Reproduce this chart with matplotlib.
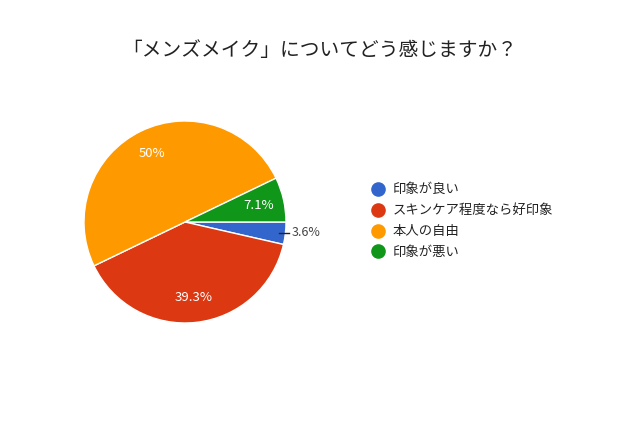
import matplotlib
matplotlib.use("Agg")
import matplotlib.pyplot as plt
from matplotlib.lines import Line2D
import numpy as np

plt.rcParams['font.family'] = ['Noto Sans CJK JP', 'DejaVu Sans']

title = "「メンズメイク」についてどう感じますか？"
categories = ["印象が良い", "スキンケア程度なら好印象", "本人の自由", "印象が悪い"]
counts = [1, 11, 14, 2]
colors = ["#3366cc", "#dc3912", "#ff9900", "#109618"]

fig = plt.figure(figsize=(6.4, 4.25), dpi=100)
fig.text(0.5, 1 - 51 / 425, title, ha='center', va='center', fontsize=14.2, color='#222222')

# pie area: center (185, 222) px, radius 101 px
ax = fig.add_axes([(185 - 101) / 640, (203 - 101) / 425, 202 / 640, 202 / 425])
total = sum(counts)
wedges, _ = ax.pie(counts, colors=colors, startangle=0, counterclock=False,
                   wedgeprops=dict(edgecolor='white', linewidth=1))
ax.set_xlim(-1, 1)
ax.set_ylim(-1, 1)

for w, c in zip(wedges, counts):
    pct = c / total * 100
    txt = f"{pct:.1f}%".replace(".0%", "%")
    mid = np.deg2rad((w.theta1 + w.theta2) / 2)
    if pct < 5:
        x0, y0 = 0.94 * np.cos(mid), 0.94 * np.sin(mid)
        ax.plot([x0, x0 + 0.1], [y0, y0], color='#222222', lw=1, clip_on=False)
        ax.text(x0 + 0.12, y0, txt, ha='left', va='center', fontsize=9, color='#444444')
    else:
        r = 0.75
        ax.text(r * np.cos(mid), r * np.sin(mid), txt, ha='center', va='center',
                fontsize=9.5, color='white')

handles = [Line2D([], [], marker='o', linestyle='', markersize=9.5,
                  markerfacecolor=col, markeredgecolor=col) for col in colors]
fig.legend(handles, categories, loc='upper left', bbox_to_anchor=(364 / 640, 1 - 177 / 425),
           frameon=False, fontsize=9.6, handletextpad=0.5, labelspacing=0.52,
           borderaxespad=0, handlelength=1.25, labelcolor='#222222')

fig.savefig("out.png", dpi=100, facecolor='white')
